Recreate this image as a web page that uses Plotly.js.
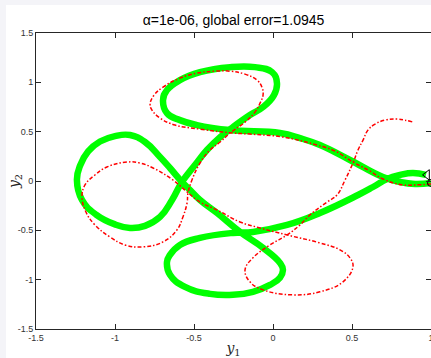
<!DOCTYPE html>
<html>
<head>
<meta charset="utf-8">
<script src="https://cdn.plot.ly/plotly-3.0.1.min.js"></script>
<style>
  html, body { margin: 0; padding: 0; background: #f4f4f8; overflow: hidden; width: 431px; height: 358px; }
  #chart { position: absolute; left: 6px; top: 5px; width: 465px; height: 353px; }
</style>
</head>
<body>
<div id="chart"></div>
<script>
// Green (thick) trajectory
const greenX = [0.968,0.886,0.804,0.722,0.633,0.538,0.297,0.089,-0.127,-0.253,-0.462,-0.589,-0.652,-0.671,-0.652,-0.557,-0.399,-0.253,-0.127,-0.019,0.044,0.063,0.044,-0.063,-0.209,-0.354,-0.462,-0.525,-0.576,-0.652,-0.715,-0.810,-0.905,-1.000,-1.095,-1.170,-1.220,-1.241,-1.209,-1.120,-1.000,-0.905,-0.810,-0.715,-0.639,-0.576,-0.494,-0.418,-0.335,-0.253,-0.146,-0.063,0.006,0.025,-0.006,-0.114,-0.272,-0.462,-0.589,-0.671,-0.696,-0.671,-0.589,-0.481,-0.272,0.044,0.171,0.297,0.487,0.696,0.804,0.899,1.000];
const greenY = [0.061,0.081,0.061,0.020,-0.061,-0.142,-0.324,-0.445,-0.516,-0.526,-0.577,-0.648,-0.749,-0.820,-0.951,-1.073,-1.144,-1.154,-1.123,-1.053,-0.980,-0.901,-0.830,-0.678,-0.516,-0.324,-0.192,-0.091,-0.010,0.132,0.243,0.395,0.466,0.455,0.400,0.300,0.160,0.010,-0.192,-0.340,-0.440,-0.476,-0.455,-0.364,-0.192,-0.010,0.162,0.314,0.445,0.547,0.668,0.749,0.870,0.992,1.103,1.154,1.154,1.103,1.022,0.921,0.820,0.688,0.617,0.567,0.516,0.486,0.435,0.364,0.213,0.040,-0.010,-0.030,-0.020];

// Red (dash-dot) trajectory
const redX = [1.000,0.899,0.823,0.696,0.614,0.506,0.392,0.278,0.063,-0.146,-0.253,-0.462,-0.620,-0.715,-0.766,-0.778,-0.753,-0.696,-0.589,-0.481,-0.367,-0.272,-0.177,-0.101,-0.070,-0.063,-0.082,-0.114,-0.177,-0.272,-0.335,-0.399,-0.462,-0.513,-0.538,-0.544,-0.570,-0.608,-0.696,-0.823,-0.937,-1.032,-1.127,-1.184,-1.209,-1.190,-1.127,-1.051,-0.924,-0.842,-0.759,-0.633,-0.544,-0.462,-0.354,-0.209,-0.082,0.089,0.297,0.424,0.487,0.506,0.443,0.297,0.127,-0.063,-0.146,-0.177,-0.127,-0.019,0.089,0.171,0.234,0.342,0.405,0.456,0.506,0.538,0.570,0.601,0.646,0.709,0.785,0.835,0.886];
const redY = [-0.030,-0.040,-0.040,0.020,0.101,0.192,0.304,0.364,0.445,0.476,0.486,0.526,0.567,0.638,0.719,0.779,0.870,0.951,1.043,1.093,1.113,1.113,1.083,1.022,0.951,0.870,0.789,0.698,0.597,0.486,0.395,0.314,0.182,0.010,-0.121,-0.223,-0.364,-0.496,-0.617,-0.668,-0.648,-0.567,-0.445,-0.314,-0.162,-0.040,0.061,0.142,0.192,0.182,0.132,0.010,-0.111,-0.213,-0.294,-0.415,-0.476,-0.547,-0.628,-0.698,-0.779,-0.870,-1.022,-1.123,-1.154,-1.103,-1.022,-0.901,-0.779,-0.648,-0.547,-0.445,-0.344,-0.213,-0.142,0.010,0.182,0.314,0.415,0.516,0.577,0.617,0.628,0.617,0.597];

// Start / end markers
const startPt = {x: [0.975], y: [0.062]};
const endPt = {x: [1.0], y: [-0.02]};

const xTicks = [-1.5, -1, -0.5, 0, 0.5, 1];
const xTickText = ["-1.5", "-1", "-0.5", "0", "0.5", "1"];
const yTicks = [-1.5, -1, -0.5, 0, 0.5, 1, 1.5];
const yTickText = ["-1.5", "-1", "-0.5", "0", "0.5", "1", "1.5"];

const titleText = "α=1e-06, global error=1.0945";

const traces = [
  {x: greenX, y: greenY, mode: 'lines', type: 'scatter',
   line: {color: '#00ff00', width: 6.5, shape: 'spline', smoothing: 1.3}, hoverinfo: 'skip'},
  {x: redX, y: redY, mode: 'lines', type: 'scatter',
   line: {color: '#ff0000', width: 1.5, dash: '4px,2px,1.5px,2px', shape: 'spline', smoothing: 1.2}, hoverinfo: 'skip'},
  {x: startPt.x, y: startPt.y, mode: 'markers', type: 'scatter',
   marker: {symbol: 'triangle-left-open', size: 9, color: '#000000', line: {width: 1}}, hoverinfo: 'skip'},
  {x: endPt.x, y: endPt.y, mode: 'markers', type: 'scatter',
   marker: {symbol: 'circle-open', size: 7, color: '#000000', line: {width: 1}}, hoverinfo: 'skip'}
];

const axisCommon = {
  showgrid: false, zeroline: false, showline: true, linecolor: '#262626', linewidth: 1,
  mirror: 'ticks', ticks: 'inside', ticklen: 5, tickwidth: 1, tickcolor: '#262626',
  tickfont: {family: 'Liberation Sans, Arial, sans-serif', size: 9, color: '#333333'}
};

const layout = {
  width: 465, height: 353,
  margin: {l: 30, r: 40, t: 27.5, b: 29},
  paper_bgcolor: '#ffffff', plot_bgcolor: '#ffffff',
  showlegend: false,
  title: {text: titleText, x: 0.5, xref: 'paper', xanchor: 'center',
          y: 0.957, yref: 'container', yanchor: 'middle',
          font: {family: 'Liberation Sans, Arial, sans-serif', size: 14, color: '#000000'}},
  xaxis: Object.assign({}, axisCommon, {
    range: [-1.5, 1], tickvals: xTicks, ticktext: xTickText,
    title: {text: '<i>y</i><sub>1</sub>', standoff: 4,
            font: {family: 'DejaVu Serif, Liberation Serif, serif', size: 14, color: '#262626'}}
  }),
  yaxis: Object.assign({}, axisCommon, {
    range: [-1.5, 1.5], tickvals: yTicks, ticktext: yTickText,
    title: {text: '<i>y</i><sub>2</sub>', standoff: 6,
            font: {family: 'DejaVu Serif, Liberation Serif, serif', size: 14, color: '#262626'}}
  })
};

Plotly.newPlot('chart', traces, layout, {displayModeBar: false, staticPlot: true});
</script>
</body>
</html>
